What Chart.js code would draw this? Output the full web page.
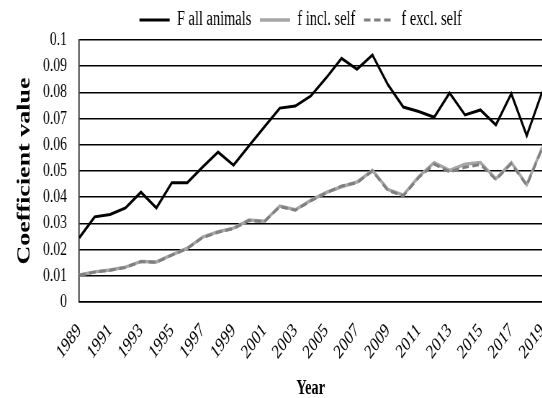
<!DOCTYPE html>
<html>
<head>
<meta charset="utf-8">
<script src="https://cdn.jsdelivr.net/npm/chart.js@4/dist/chart.umd.min.js"></script>
<style>
  html, body { margin: 0; padding: 0; background: #fff; overflow: hidden; }
  #wrap {
    width: 753px; height: 398px;
    transform: scaleX(0.72); transform-origin: 0 0;
  }
</style>
</head>
<body>
<div id="wrap"><canvas id="chart" width="753" height="398"></canvas></div>
<script>
// Inbreeding coefficients per year
const years = ['1989','1990','1991','1992','1993','1994','1995','1996','1997','1998',
  '1999','2000','2001','2002','2003','2004','2005','2006','2007','2008',
  '2009','2010','2011','2012','2013','2014','2015','2016','2017','2018','2019'];

const fAllAnimals = [0.0245,0.0325,0.0334,0.0359,0.0419,0.0359,0.0455,0.0455,0.0515,0.0572,
  0.0522,0.0596,0.0668,0.0740,0.0748,0.0786,0.0855,0.0930,0.0888,0.0943,
  0.0830,0.0744,0.0727,0.0705,0.0798,0.0714,0.0733,0.0676,0.0795,0.0635,0.0802];

const fInclSelf = [0.0103,0.0115,0.0122,0.0133,0.0155,0.0153,0.0180,0.0205,0.0248,0.0268,
  0.0282,0.0313,0.0308,0.0366,0.0352,0.0388,0.0418,0.0440,0.0458,0.0502,
  0.0430,0.0408,0.0478,0.0532,0.0502,0.0526,0.0532,0.0470,0.0532,0.0448,0.0590];

const fExclSelf = [0.0102,0.0114,0.0121,0.0132,0.0154,0.0152,0.0179,0.0204,0.0246,0.0266,
  0.0280,0.0311,0.0307,0.0364,0.0350,0.0386,0.0416,0.0443,0.0455,0.0500,
  0.0426,0.0405,0.0475,0.0526,0.0497,0.0514,0.0525,0.0467,0.0528,0.0445,0.0585];

const seriesNames = ['F all animals', 'f incl. self', 'f excl. self'];

// Every other year is labelled on the category axis
const shownYears = years.filter((y, i) => i % 2 === 0);

const yTicks = { min: 0, max: 0.1, step: 0.01 };

const serif = '"Liberation Serif", "Times New Roman", serif';

// Moves the legend a little to the left of the plot centre
const legendShift = {
  id: 'legendShift',
  beforeDraw(chart) {
    const lg = chart.legend;
    if (lg && !lg._shifted) {
      lg.left -= 14; lg.right -= 14; lg._shifted = true;
    }
  }
};

new Chart(document.getElementById('chart'), {
  type: 'line',
  data: {
    labels: years,
    datasets: [
      { label: seriesNames[0], data: fAllAnimals, borderColor: '#000000', backgroundColor: '#000000',
        borderWidth: 3, pointRadius: 0, tension: 0, order: 2 },
      { label: seriesNames[1], data: fInclSelf, borderColor: '#a6a6a6', backgroundColor: '#a6a6a6',
        borderWidth: 3.5, pointRadius: 0, tension: 0, order: 1 },
      { label: seriesNames[2], data: fExclSelf, borderColor: '#7f7f7f', backgroundColor: '#7f7f7f',
        borderWidth: 3, borderDash: [9, 5], pointRadius: 0, tension: 0, order: 0 }
    ]
  },
  options: {
    responsive: false,
    animation: false,
    devicePixelRatio: 1,
    layout: { padding: { top: -2, left: 0, right: 0, bottom: -3 } },
    plugins: {
      tooltip: { enabled: false },
      legend: {
        position: 'top',
        fullSize: false,
        labels: {
          usePointStyle: true,
          pointStyle: 'line',
          pointStyleWidth: 42,
          padding: 12,
          color: '#000',
          font: { family: serif, size: 20 },
          sort: (a, b) => a.datasetIndex - b.datasetIndex,
          generateLabels(chart) {
            const items = Chart.defaults.plugins.legend.labels.generateLabels(chart);
            items.forEach(it => {
              const ds = chart.data.datasets[it.datasetIndex];
              it.strokeStyle = ds.borderColor;
              it.lineWidth = ds.borderWidth;
              it.lineDash = ds.borderDash || [];
            });
            return items;
          }
        }
      }
    },
    scales: {
      x: {
        offset: false,
        grid: { display: false, drawTicks: false },
        border: { display: true, color: '#000', width: 1.5 },
        ticks: {
          autoSkip: false,
          minRotation: 45,
          maxRotation: 45,
          padding: 17,
          color: '#000',
          font: { family: serif, size: 20 },
          callback: (v, i) => (i % 2 === 0 ? shownYears[i / 2] : '')
        },
        title: {
          display: true, text: 'Year', color: '#000',
          font: { family: serif, size: 20, weight: 'bold' },
          padding: { top: 0, bottom: 0 }
        },
        afterFit(scale) { scale.height = 99; scale.paddingLeft = 0; scale.paddingRight = 0; }
      },
      y: {
        min: yTicks.min,
        max: yTicks.max,
        grid: { color: '#000', lineWidth: 1.5, drawTicks: false },
        border: { display: true, color: '#000', width: 1.5 },
        ticks: {
          stepSize: yTicks.step,
          padding: 17,
          color: '#000',
          font: { family: serif, size: 19 },
          callback: v => String(Number(v.toFixed(2)))
        },
        title: {
          display: true, text: 'Coefficient value', color: '#000',
          font: { family: serif, size: 26, weight: 'bold' },
          padding: { top: 19, bottom: 0 }
        },
        afterFit(scale) { scale.width = 110; }
      }
    }
  },
  plugins: [legendShift]
});
</script>
</body>
</html>
